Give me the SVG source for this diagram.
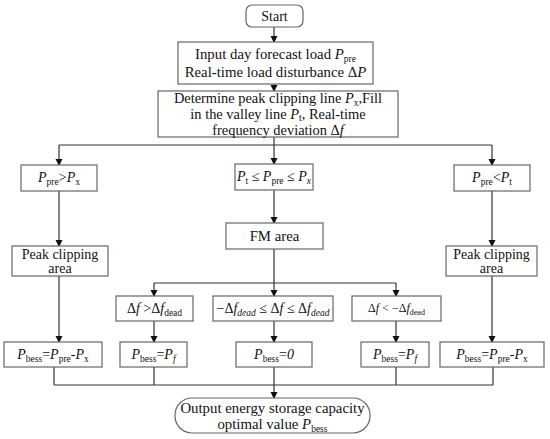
<svg xmlns="http://www.w3.org/2000/svg" width="550" height="439" viewBox="0 0 550 439" font-family="'Liberation Serif', 'Times New Roman', serif">
<defs>
<marker id="ah" markerWidth="8" markerHeight="8" refX="6" refY="3.5" orient="auto" markerUnits="userSpaceOnUse">
<path d="M0,0 L7,3.5 L0,7 Z" fill="#111"/>
</marker>
<style>
.box{fill:#fff;stroke:#666;stroke-width:1.2}
.ln{fill:none;stroke:#333;stroke-width:1.2}
.arr{fill:none;stroke:#333;stroke-width:1.2;marker-end:url(#ah)}
text{font-family:'Liberation Serif','Times New Roman',serif;font-size:14px;fill:#111;text-anchor:middle}
.i{font-style:italic}
.s{font-size:9.5px}
.big{font-size:14.8px}
.mid{font-size:14.4px}
</style>
</defs>
<rect width="550" height="439" fill="#fff"/>
<g id="connectors">
<path class="arr" d="M274,27 V42"/>
<path class="arr" d="M274,84 V91"/>
<path class="ln" d="M274,137 V145 M59,145 H492"/>
<path class="arr" d="M59,145 V165"/>
<path class="arr" d="M274,145 V164"/>
<path class="arr" d="M492,145 V165"/>
<path class="arr" d="M59,191 V246"/>
<path class="arr" d="M274,190 V223"/>
<path class="arr" d="M492,191 V246"/>
<path class="ln" d="M274,249 V283 M154,283 H396"/>
<path class="arr" d="M154,283 V296"/>
<path class="arr" d="M274,283 V296"/>
<path class="arr" d="M396,283 V296"/>
<path class="arr" d="M59,276 V342"/>
<path class="arr" d="M154,321 V342"/>
<path class="arr" d="M274,321 V342"/>
<path class="arr" d="M396,321 V342"/>
<path class="arr" d="M492,276 V342"/>
<path class="ln" d="M54,367 V385 M154,367 V385 M274,367 V385 M396,367 V385 M493,367 V385 M54,385 H493"/>
<path class="arr" d="M274,385 V398"/>
</g>
<g id="start"><rect class="box" x="246" y="5" width="57" height="22" rx="6"/><text x="274.5" y="21">Start</text></g>
<g id="input"><rect class="box" x="178" y="42" width="195" height="42"/>
<text class="big" x="275.5" y="59">Input day forecast load <tspan class="i">P</tspan><tspan class="s" dy="2.5">pre</tspan></text>
<text class="big" x="275.5" y="77">Real-time load disturbance Δ<tspan class="i">P</tspan></text></g>
<g id="determine"><rect class="box" x="158" y="91" width="240" height="46"/>
<text class="mid" x="278" y="103">Determine  peak clipping line <tspan class="i">P</tspan><tspan class="s" dy="2.5">x</tspan><tspan dy="-2.5">,Fill</tspan></text>
<text class="mid" x="278" y="119">in the valley line <tspan class="i">P</tspan><tspan class="s" dy="2">t</tspan><tspan dy="-2">,  Real-time</tspan></text>
<text class="mid" x="278" y="134.5">frequency deviation Δ<tspan class="i">f</tspan></text></g>
<g id="c1"><rect class="box" x="21" y="165" width="76" height="26"/>
<text x="59" y="182"><tspan class="i">P</tspan><tspan class="s" dy="3">pre</tspan><tspan dy="-3">&gt;</tspan><tspan class="i">P</tspan><tspan class="s" dy="3">x</tspan></text></g>
<g id="c2"><rect class="box" x="235" y="164" width="78" height="26"/>
<text x="274" y="181"><tspan class="i">P</tspan><tspan class="s" dy="3">t</tspan><tspan dy="-3"> ≤ </tspan><tspan class="i">P</tspan><tspan class="s" dy="3">pre</tspan><tspan dy="-3"> ≤ </tspan><tspan class="i">P</tspan><tspan class="s i" dy="3">x</tspan></text></g>
<g id="c3"><rect class="box" x="454" y="165" width="76" height="26"/>
<text x="492" y="182"><tspan class="i">P</tspan><tspan class="s" dy="3">pre</tspan><tspan dy="-3">&lt;</tspan><tspan class="i">P</tspan><tspan class="s" dy="3">t</tspan></text></g>
<g id="peak1"><rect class="box" x="12" y="246" width="96" height="30"/>
<text x="60" y="259">Peak clipping</text><text x="60" y="273">area</text></g>
<g id="fm"><rect class="box" x="226" y="223" width="97" height="26"/><text class="big" x="274.5" y="241">FM area</text></g>
<g id="peak2"><rect class="box" x="446" y="246" width="91" height="30"/>
<text x="491.5" y="259">Peak clipping</text><text x="491.5" y="273">area</text></g>
<g id="f1"><rect class="box" x="116" y="296" width="77" height="25"/>
<text x="154.5" y="313">Δ<tspan class="i">f</tspan> &gt;Δ<tspan class="i">f</tspan><tspan class="s" dy="3">dead</tspan></text></g>
<g id="f2"><rect class="box" x="213" y="296" width="120" height="25"/>
<text x="273" y="313">−Δ<tspan class="i">f</tspan><tspan class="s i" dy="3">dead</tspan><tspan dy="-3"> ≤ Δ</tspan><tspan class="i">f</tspan> ≤ Δ<tspan class="i">f</tspan><tspan class="s i" dy="3">dead</tspan></text></g>
<g id="f3"><rect class="box" x="352" y="296" width="89" height="25"/>
<text x="396.5" y="312" style="font-size:12px">Δ<tspan class="i">f</tspan> &lt; −Δ<tspan class="i">f</tspan><tspan style="font-size:8px" dy="3">dead</tspan></text></g>
<g id="r1"><rect class="box" x="4" y="342" width="98" height="25"/>
<text x="53" y="359"><tspan class="i">P</tspan><tspan class="s" dy="3">bess</tspan><tspan dy="-3">=</tspan><tspan class="i">P</tspan><tspan class="s" dy="3">pre</tspan><tspan dy="-3">-</tspan><tspan class="i">P</tspan><tspan class="s" dy="3">x</tspan></text></g>
<g id="r2"><rect class="box" x="120" y="342" width="67" height="25"/>
<text x="153.5" y="359"><tspan class="i">P</tspan><tspan class="s" dy="3">bess</tspan><tspan dy="-3">=</tspan><tspan class="i">P</tspan><tspan class="s i" dy="3">f</tspan></text></g>
<g id="r3"><rect class="box" x="236" y="342" width="76" height="25"/>
<text x="274" y="359"><tspan class="i">P</tspan><tspan class="s" dy="3">bess</tspan><tspan dy="-3">=</tspan><tspan class="i">0</tspan></text></g>
<g id="r4"><rect class="box" x="361" y="342" width="68" height="25"/>
<text x="395" y="359"><tspan class="i">P</tspan><tspan class="s" dy="3">bess</tspan><tspan dy="-3">=</tspan><tspan class="i">P</tspan><tspan class="s i" dy="3">f</tspan></text></g>
<g id="r5"><rect class="box" x="440" y="342" width="104" height="25"/>
<text x="492" y="359"><tspan class="i">P</tspan><tspan class="s" dy="3">bess</tspan><tspan dy="-3">=</tspan><tspan class="i">P</tspan><tspan class="s" dy="3">pre</tspan><tspan dy="-3">-</tspan><tspan class="i">P</tspan><tspan class="s" dy="3">x</tspan></text></g>
<g id="output"><rect class="box" x="175" y="398" width="195" height="35" rx="17"/>
<text class="big" x="272.5" y="413">Output energy storage capacity</text>
<text class="big" x="272.5" y="429">optimal value  <tspan class="i">P</tspan><tspan class="s" dy="3">bess</tspan></text></g>
</svg>
